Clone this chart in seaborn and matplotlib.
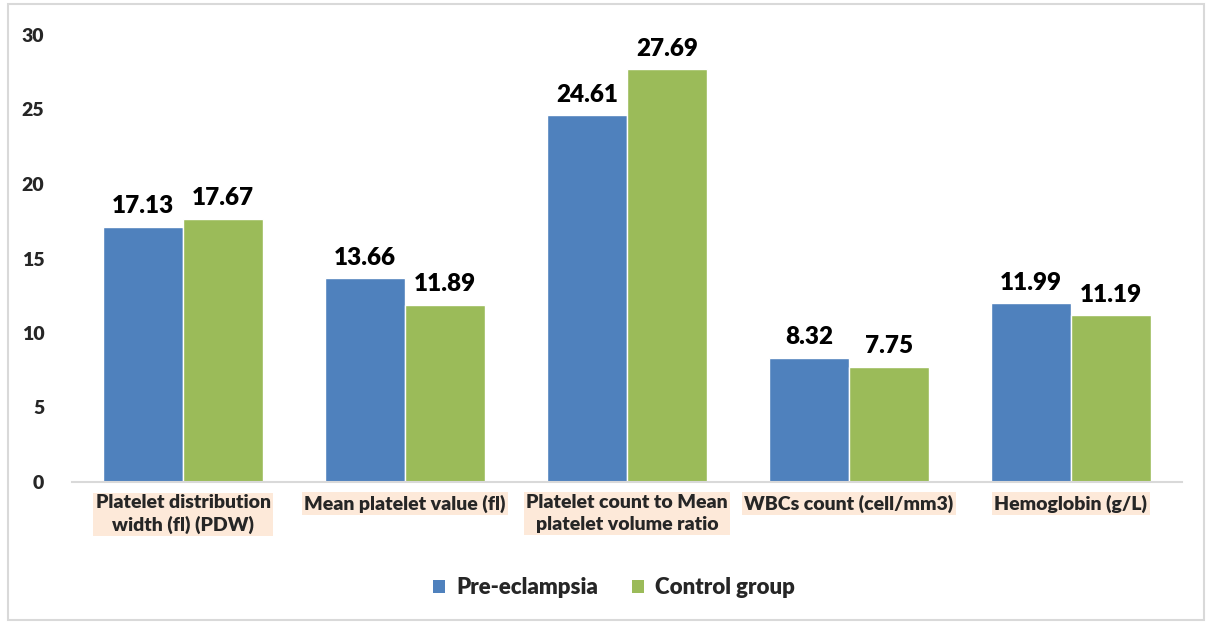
import matplotlib
matplotlib.use("Agg")
import matplotlib.pyplot as plt
import seaborn as sns
import pandas as pd
from matplotlib.patches import Patch, Rectangle

categories = ["Platelet distribution\nwidth (fl) (PDW)", "Mean platelet value (fl)",
              "Platelet count to Mean\nplatelet volume ratio", "WBCs count (cell/mm3)",
              "Hemoglobin (g/L)"]
series_names = ["Pre-eclampsia", "Control group"]
pre_eclampsia = [17.13, 13.66, 24.61, 8.32, 11.99]
control_group = [17.67, 11.89, 27.69, 7.75, 11.19]
y_ticks = [0, 5, 10, 15, 20, 25, 30]

colors = ["#4F81BD", "#9BBB59"]

df = pd.DataFrame({
    "category": categories * 2,
    "series": [series_names[0]] * len(categories) + [series_names[1]] * len(categories),
    "value": pre_eclampsia + control_group,
})

sns.set_theme(style="white")
plt.rcParams["font.family"] = ["Lato", "DejaVu Sans"]
W = "heavy"
plt.rcParams["font.weight"] = W

fig = plt.figure(figsize=(12.06, 6.24), dpi=100)
ax = fig.add_axes([72 / 1206, 1 - 482 / 624, 1110 / 1206, (482 - 35) / 624])

sns.barplot(data=df, x="category", y="value", hue="series", palette=colors,
            width=0.72, saturation=1, ax=ax, legend=False, gap=0)

for c in ax.containers:
    ax.bar_label(c, fmt="%.2f", padding=7, fontsize=17.5, fontweight=W, color="black")

ax.set_ylim(0, 30)
ax.set_xlim(-0.5, len(categories) - 0.5)
ax.set_yticks(y_ticks)
ax.set_yticklabels([str(t) for t in y_ticks], fontsize=14, fontweight=W)
ax.tick_params(axis="y", length=0, pad=20)
ax.tick_params(axis="x", length=0, pad=9)
ax.set_xticks(range(len(categories)))
ax.set_xticklabels(categories, fontsize=14, fontweight=W, linespacing=1.3,
                   va="top", ha="center")
for lab in ax.get_xticklabels():
    lab.set_bbox(dict(facecolor="#FDE9D9", edgecolor="none", pad=1.5))
ax.set_xlabel("")
ax.set_ylabel("")
for s in ["top", "right", "left"]:
    ax.spines[s].set_visible(False)
ax.spines["bottom"].set_color("#D9D9D9")
ax.spines["bottom"].set_linewidth(1.5)
ax.grid(False)

handles = [Patch(facecolor=colors[0], edgecolor="none", label=series_names[0]),
           Patch(facecolor=colors[1], edgecolor="none", label=series_names[1])]
fig.legend(handles=handles, loc="center", bbox_to_anchor=(0.509, 1 - 588 / 624), ncol=2,
           frameon=False, prop={"size": 16, "weight": W}, handlelength=0.55,
           handleheight=0.55, handletextpad=0.5, columnspacing=1.5)

fig.patches.append(Rectangle((8 / 1206, 4 / 624), 1196 / 1206, 616 / 624,
                             transform=fig.transFigure, fill=False,
                             edgecolor="#D9D9D9", linewidth=1.5))

fig.savefig("out.png", dpi=100)
